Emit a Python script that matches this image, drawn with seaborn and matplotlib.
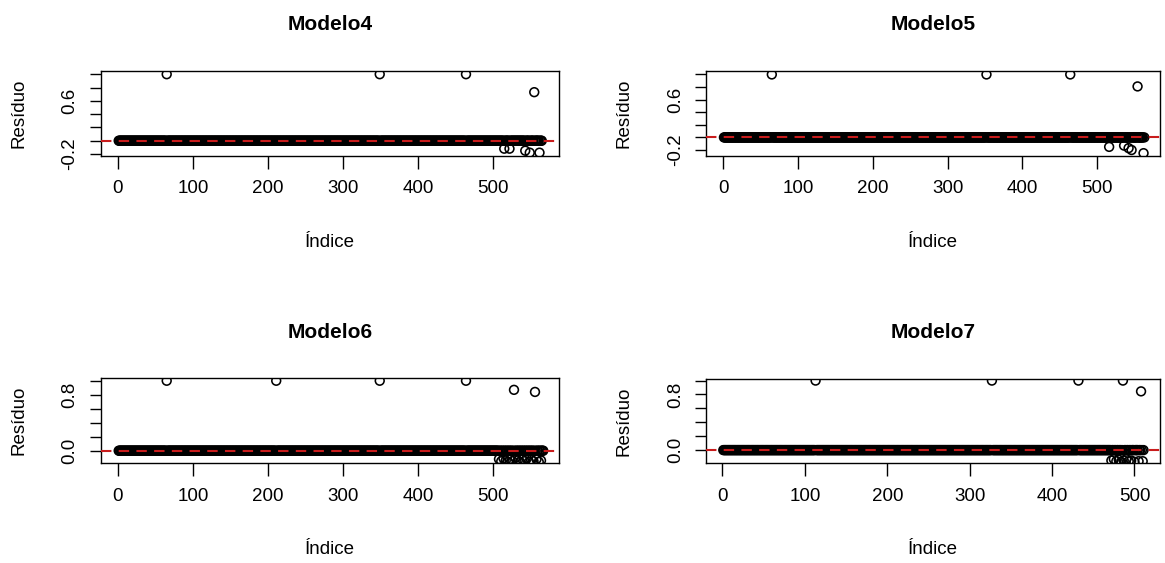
import numpy as np
import pandas as pd
import matplotlib
matplotlib.use("Agg")
import matplotlib.pyplot as plt
import seaborn as sns

# resíduos por observação: quase todos são 0, só os pontos abaixo fogem disso
modelos = ["Modelo4", "Modelo5", "Modelo6", "Modelo7"]
n_obs = [565, 563, 567, 511]

idx_m4 = [65, 349, 464, 555, 515, 522, 543, 549, 562]
res_m4 = [1.0, 1.0, 1.0, 0.73, -0.12, -0.12, -0.15, -0.18, -0.18]

idx_m5 = [65, 352, 464, 554, 516, 536, 542, 546, 562]
res_m5 = [1.0, 1.0, 1.0, 0.81, -0.15, -0.13, -0.17, -0.20, -0.25]

idx_m6 = [65, 211, 349, 464, 528, 556,
          508, 511, 514, 517, 520, 523, 526, 530, 533, 536,
          539, 542, 545, 548, 551, 554, 558, 561, 564]
res_m6 = [1.0, 1.0, 1.0, 1.0, 0.87, 0.84,
          -0.12, -0.15, -0.11, -0.14, -0.16, -0.12, -0.15, -0.10, -0.14, -0.16,
          -0.12, -0.15, -0.11, -0.16, -0.13, -0.15, -0.12, -0.16, -0.14]

idx_m7 = [113, 327, 432, 486, 508,
          472, 475, 478, 481, 484, 487, 490, 493, 496, 500, 505, 510]
res_m7 = [1.0, 1.0, 1.0, 1.0, 0.845,
          -0.15, -0.13, -0.16, -0.14, -0.17, -0.15, -0.13, -0.16, -0.15, -0.17, -0.16, -0.16]

outliers = [(idx_m4, res_m4), (idx_m5, res_m5), (idx_m6, res_m6), (idx_m7, res_m7)]

# eixo y: marcas a cada 0.2, mas o R só escreveu dois rótulos em cada painel
yticks_top = [-0.2, 0.0, 0.2, 0.4, 0.6, 0.8, 1.0]
ylabels_top = ["-0.2", "", "", "", "0.6", "", ""]
yticks_bot = [0.0, 0.2, 0.4, 0.6, 0.8, 1.0]
ylabels_bot = ["0.0", "", "", "", "0.8", ""]
xticks = [0, 100, 200, 300, 400, 500]

sns.set_style("ticks")
plt.rcParams['font.family'] = ['Liberation Sans', 'DejaVu Sans']
plt.rcParams['text.color'] = 'black'
plt.rcParams['axes.labelcolor'] = 'black'
plt.rcParams['xtick.color'] = 'black'
plt.rcParams['ytick.color'] = 'black'

W, H = 1165, 563
fig = plt.figure(figsize=(W / 100, H / 100), dpi=100)

# caixas dos painéis em pixels (esquerda, direita, topo, base)
boxes = [(100.7, 559, 70.7, 156), (706, 1160, 70.5, 156),
         (100.7, 559, 378.3, 463.3), (706, 1160, 378.5, 463.3)]
xlims = [(-23, 588), (-23, 584), (-23, 588), (-20, 531)]
ylims = [(-0.23, 1.053), (-0.295, 1.063), (-0.18, 1.035), (-0.19, 1.03)]

for k, nome in enumerate(modelos):
    l, r, t, b = boxes[k]
    ax = fig.add_axes([l / W, 1 - b / H, (r - l) / W, (b - t) / H])

    res = np.zeros(n_obs[k])
    idx, vals = outliers[k]
    for i, v in zip(idx, vals):
        res[i - 1] = v
    df = pd.DataFrame({"indice": np.arange(1, n_obs[k] + 1), "residuo": res})

    sns.scatterplot(data=df, x="indice", y="residuo", ax=ax, marker="o", s=40,
                    facecolor="none", edgecolor="black", linewidth=1.15, zorder=2)
    ax.axhline(0, color="#c81c1c", ls=(0, (5, 3.5)), lw=1.5, zorder=3)

    ax.set_xlim(*xlims[k])
    ax.set_ylim(*ylims[k])
    ax.set_xticks(xticks)
    ax.set_xticklabels([str(x) for x in xticks], fontsize=13.5)
    if k < 2:
        ax.set_yticks(yticks_top)
        ax.set_yticklabels(ylabels_top, fontsize=13.5, rotation=90, va="center")
    else:
        ax.set_yticks(yticks_bot)
        ax.set_yticklabels(ylabels_bot, fontsize=13.5, rotation=90, va="center")
    ax.tick_params(axis="x", bottom=True, direction="out", length=9.5, width=1, pad=8)
    ax.tick_params(axis="y", left=True, direction="out", length=8, width=1, pad=8)

    for sp in ax.spines.values():
        sp.set_visible(True)
        sp.set_color("black")
        sp.set_linewidth(1.0)

    ax.set_title(nome, fontsize=15, fontweight="bold", pad=29)
    ax.set_xlabel("Índice", fontsize=13.5)
    ax.set_ylabel("Resíduo", fontsize=13.5)
    w_px, h_px = r - l, b - t
    ax.xaxis.set_label_coords(0.5, -78 / h_px)
    ax.yaxis.set_label_coords(-73 / w_px, 0.5)

fig.savefig("out.png", dpi=100, facecolor="white")
